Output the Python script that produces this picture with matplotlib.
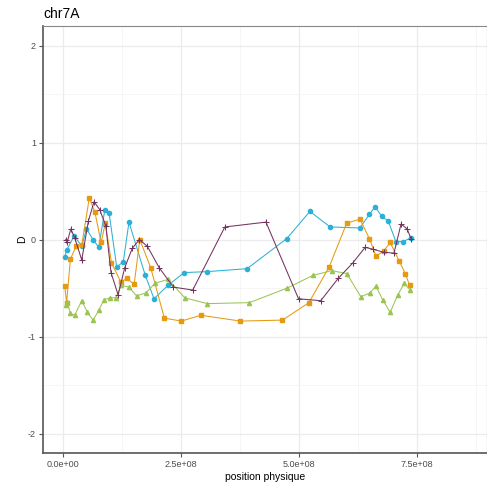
import matplotlib
matplotlib.use('Agg')
import matplotlib.pyplot as plt
from matplotlib.ticker import MultipleLocator

plt.rcParams['font.family'] = ['Liberation Sans', 'DejaVu Sans']
plt.rcParams['axes.unicode_minus'] = False

# positions in units of 1e8 bp
blue_x = [0.04, 0.08, 0.24, 0.40, 0.50, 0.64, 0.76, 0.89, 0.98, 1.14, 1.28, 1.40, 1.74, 1.93,
          2.23, 2.57, 3.06, 3.90, 4.74, 5.23, 5.66, 6.29, 6.49, 6.61, 6.75, 6.89, 7.05, 7.21, 7.37]
blue_y = [-0.18, -0.11, 0.04, -0.07, 0.11, 0.0, -0.08, 0.31, 0.27, -0.28, -0.23, 0.18, -0.36, -0.61,
          -0.47, -0.34, -0.33, -0.30, 0.01, 0.29, 0.13, 0.12, 0.26, 0.34, 0.24, 0.19, -0.02, -0.02, 0.02]

orange_x = [0.04, 0.08, 0.16, 0.28, 0.40, 0.56, 0.68, 0.81, 0.90, 1.03, 1.23, 1.35, 1.51, 1.63,
            1.86, 2.15, 2.51, 2.92, 3.76, 4.65, 5.21, 5.64, 6.01, 6.29, 6.49, 6.63, 6.79, 6.93,
            7.12, 7.25, 7.34]
orange_y = [-0.48, -0.65, -0.20, -0.07, -0.06, 0.43, 0.28, -0.03, 0.17, -0.24, -0.44, -0.40, -0.46, 0.0,
            -0.29, -0.81, -0.84, -0.78, -0.84, -0.83, -0.65, -0.28, 0.17, 0.21, 0.01, -0.17, -0.12, -0.03,
            -0.22, -0.35, -0.47]

green_x = [0.06, 0.09, 0.16, 0.25, 0.40, 0.52, 0.64, 0.76, 0.87, 1.00, 1.12, 1.24, 1.40, 1.56,
           1.76, 1.95, 2.23, 2.58, 3.06, 3.95, 4.75, 5.29, 5.69, 6.01, 6.31, 6.50, 6.63, 6.77,
           6.93, 7.09, 7.23, 7.35]
green_y = [-0.67, -0.64, -0.76, -0.78, -0.63, -0.75, -0.83, -0.73, -0.62, -0.60, -0.60, -0.47, -0.49, -0.58,
           -0.55, -0.45, -0.41, -0.60, -0.66, -0.65, -0.50, -0.37, -0.32, -0.35, -0.59, -0.55, -0.48, -0.62,
           -0.75, -0.57, -0.45, -0.52]

purple_x = [0.06, 0.09, 0.17, 0.25, 0.40, 0.54, 0.66, 0.78, 0.91, 1.02, 1.17, 1.31, 1.47, 1.62,
            1.79, 2.04, 2.34, 2.75, 3.43, 4.30, 4.99, 5.46, 5.83, 6.14, 6.40, 6.57, 6.79, 7.01,
            7.16, 7.29, 7.37]
purple_y = [0.0, -0.03, 0.11, 0.02, -0.21, 0.19, 0.39, 0.31, 0.14, -0.34, -0.57, -0.29, -0.09, 0.0,
            -0.07, -0.29, -0.49, -0.52, 0.13, 0.18, -0.61, -0.63, -0.40, -0.24, -0.08, -0.10, -0.13, -0.14,
            0.16, 0.11, 0.01]

fig = plt.figure(figsize=(4.87, 4.84), dpi=100)
ax = fig.add_axes([0.0883, 0.064, 0.9117, 0.882])

ax.plot([v * 1e8 for v in blue_x], blue_y, color='#2cb0d6', marker='o', ms=3.0, lw=0.75)
ax.plot([v * 1e8 for v in orange_x], orange_y, color='#e69a13', marker='s', ms=3.0, lw=0.75)
ax.plot([v * 1e8 for v in green_x], green_y, color='#9cc453', marker='^', ms=3.0, lw=0.75)
ax.plot([v * 1e8 for v in purple_x], purple_y, color='#74325f', marker='+', ms=5, mew=0.75, lw=0.75)

ax.set_xlim(-0.42e8, 8.98e8)
ax.set_ylim(-2.2, 2.2)
ax.set_xticks([0, 2.5e8, 5e8, 7.5e8])
ax.set_xticklabels(['0.0e+00', '2.5e+08', '5.0e+08', '7.5e+08'])
ax.set_yticks([-2, -1, 0, 1, 2])
ax.xaxis.set_minor_locator(MultipleLocator(1.25e8))
ax.yaxis.set_minor_locator(MultipleLocator(0.5))

ax.grid(which='major', color='#ebebeb', lw=0.9)
ax.grid(which='minor', color='#f3f3f3', lw=0.5)
ax.set_axisbelow(True)
ax.tick_params(which='major', length=3, color='#555555', labelcolor='#4d4d4d', labelsize=6.5, pad=2)
ax.tick_params(which='minor', length=0)
for s in ax.spines.values():
    s.set_color('#888888')
    s.set_linewidth(0.8)
ax.spines['left'].set_color('#555555')
ax.spines['bottom'].set_color('#555555')
ax.spines['left'].set_linewidth(1.2)
ax.spines['bottom'].set_linewidth(1.2)

ax.set_xlabel('position physique', fontsize=7.5, labelpad=2)
ax.set_ylabel('D', fontsize=7.5)
ax.yaxis.set_label_coords(-0.036, 0.5)
ax.set_title('chr7A', loc='left', fontsize=10, pad=6)

fig.savefig('out.png', dpi=100)
